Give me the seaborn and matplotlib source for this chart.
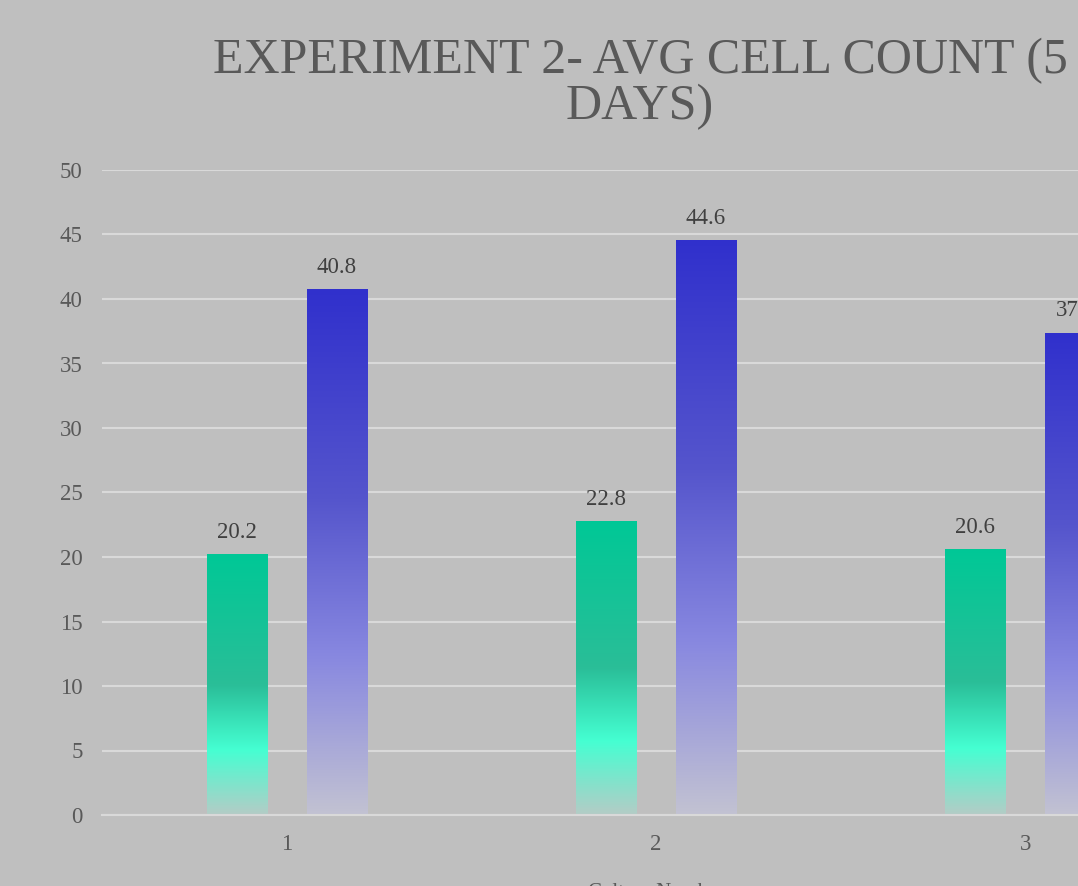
import matplotlib
matplotlib.use("Agg")
import matplotlib.pyplot as plt
import numpy as np
import pandas as pd
import seaborn as sb
from matplotlib.colors import LinearSegmentedColormap

# date
grupuri = ["1", "2", "3"]
serii = ["Seria 1", "Seria 2"]
valori_s1 = [20.2, 22.8, 20.6]
valori_s2 = [40.8, 44.6, 37.4]
titlu = "EXPERIMENT 2- AVG CELL COUNT (5\nDAYS)"
eticheta_x = "Culture Number"

df = pd.DataFrame({
    "grup": grupuri * 2,
    "serie": [serii[0]] * 3 + [serii[1]] * 3,
    "valoare": valori_s1 + valori_s2,
})

sb.set_style("white")
plt.rcParams["font.family"] = ["Liberation Serif", "DejaVu Serif"]

fundal = "#bfbfbf"
text_gri = "#595959"

fig = plt.figure(figsize=(10.78, 8.86), dpi=100, facecolor=fundal)
ax = fig.add_axes([102 / 1078, 71 / 886, 1108 / 1078, 645 / 886])
ax.set_facecolor(fundal)

sb.barplot(data=df, x="grup", y="valoare", hue="serie", order=grupuri,
           hue_order=serii, width=0.542, gap=0.4, legend=False, ax=ax,
           palette=["#00c896", "#3333c8"], saturation=1)

# gradient pe fiecare bara (ca in Excel)
cm_verde = LinearSegmentedColormap.from_list("verde", [
    (0.0, "#b4ccc6"), (0.25, "#45ffd2"), (0.5, "#2abe98"), (1.0, "#00c896")])
cm_albastru = LinearSegmentedColormap.from_list("albastru", [
    (0.0, "#c2c2d2"), (0.3, "#8888e0"), (0.6, "#5555cc"), (1.0, "#3030cc")])

grad = np.linspace(0, 1, 256).reshape(-1, 1)
bare = list(ax.patches)
for i, bara in enumerate(bare):
    cm = cm_verde if i < len(grupuri) else cm_albastru
    x0, y0 = bara.get_x(), bara.get_y()
    w, h = bara.get_width(), bara.get_height()
    img = ax.imshow(grad, cmap=cm, origin="lower", aspect="auto",
                    extent=[x0, x0 + w, y0, y0 + h], zorder=2)
    img.set_clip_path(bara)
    bara.set_facecolor("none")
    bara.set_edgecolor("none")

for cont in ax.containers:
    ax.bar_label(cont, fmt="%.1f", padding=8, fontsize=16.5, color="#404040")

ax.set_xlim(-0.5, 2.5)
ax.set_ylim(0, 50)
ax.set_yticks(np.arange(0, 51, 5))
ax.yaxis.grid(True, color="#d9d9d9", linewidth=1.5)
ax.set_axisbelow(True)
for s in ["top", "right", "left"]:
    ax.spines[s].set_visible(False)
ax.spines["bottom"].set_color("#d9d9d9")
ax.spines["bottom"].set_linewidth(1.5)
ax.tick_params(axis="both", length=0, labelsize=16.5, labelcolor=text_gri)
ax.tick_params(axis="y", pad=14)
ax.tick_params(axis="x", pad=14)
ax.set_ylabel("")
ax.set_xlabel(eticheta_x, fontsize=15, color=text_gri, labelpad=20)

fig.text(640 / 1078, 1 - 38 / 886, titlu, ha="center", va="top",
         fontsize=36, color=text_gri, linespacing=0.98)

fig.savefig("out.png", dpi=100, facecolor=fundal)
